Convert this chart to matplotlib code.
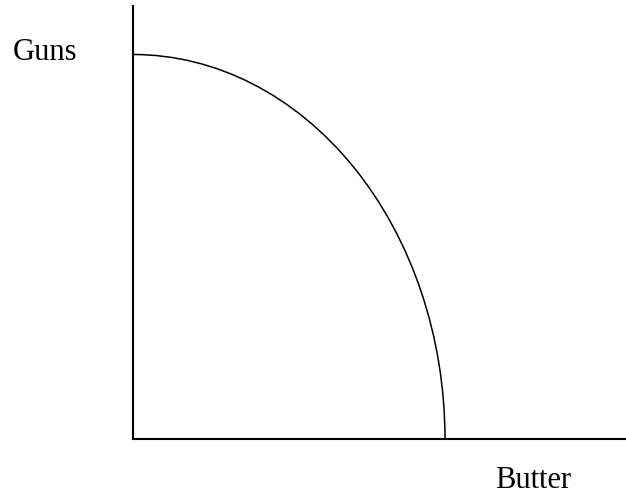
import matplotlib
matplotlib.use("Agg")
import matplotlib.pyplot as plt
from matplotlib.patches import Arc

# Data (units)
butter_max = 10.0      # butter intercept of the frontier
guns_max = 10.0        # guns intercept of the frontier
x_label = "Butter"
y_label = "Guns"

W, H = 626, 495
fig = plt.figure(figsize=(W / 100, H / 100), dpi=100)

# axes placement in pixels
left_px, right_px, top_px, bottom_px = 133, 625, 6, 439
ax = fig.add_axes([left_px / W, (H - bottom_px) / H,
                   (right_px - left_px) / W, (bottom_px - top_px) / H])

x_px_per_unit = (445 - 133) / butter_max
y_px_per_unit = (439 - 54.5) / guns_max
ax.set_xlim(0, (right_px - left_px) / x_px_per_unit)
ax.set_ylim(0, (bottom_px - top_px) / y_px_per_unit)

for s in ["top", "right"]:
    ax.spines[s].set_visible(False)
for s in ["left", "bottom"]:
    ax.spines[s].set_linewidth(1.5)
    ax.spines[s].set_color("black")
ax.set_xticks([])
ax.set_yticks([])
ax.patch.set_alpha(0)

arc = Arc((0, 0), 2 * butter_max, 2 * guns_max, theta1=0, theta2=90,
          color="black", linewidth=1.1)
ax.add_patch(arc)

font = ["Liberation Serif", "DejaVu Serif"]
fig.text(13 / W, 1 - 60 / H, y_label, family=font, fontsize=22,
         ha="left", va="baseline", color="black")
fig.text(495 / W, 1 - 488 / H, x_label, family=font, fontsize=22,
         ha="left", va="baseline", color="black")

fig.savefig("out.png", dpi=100)
